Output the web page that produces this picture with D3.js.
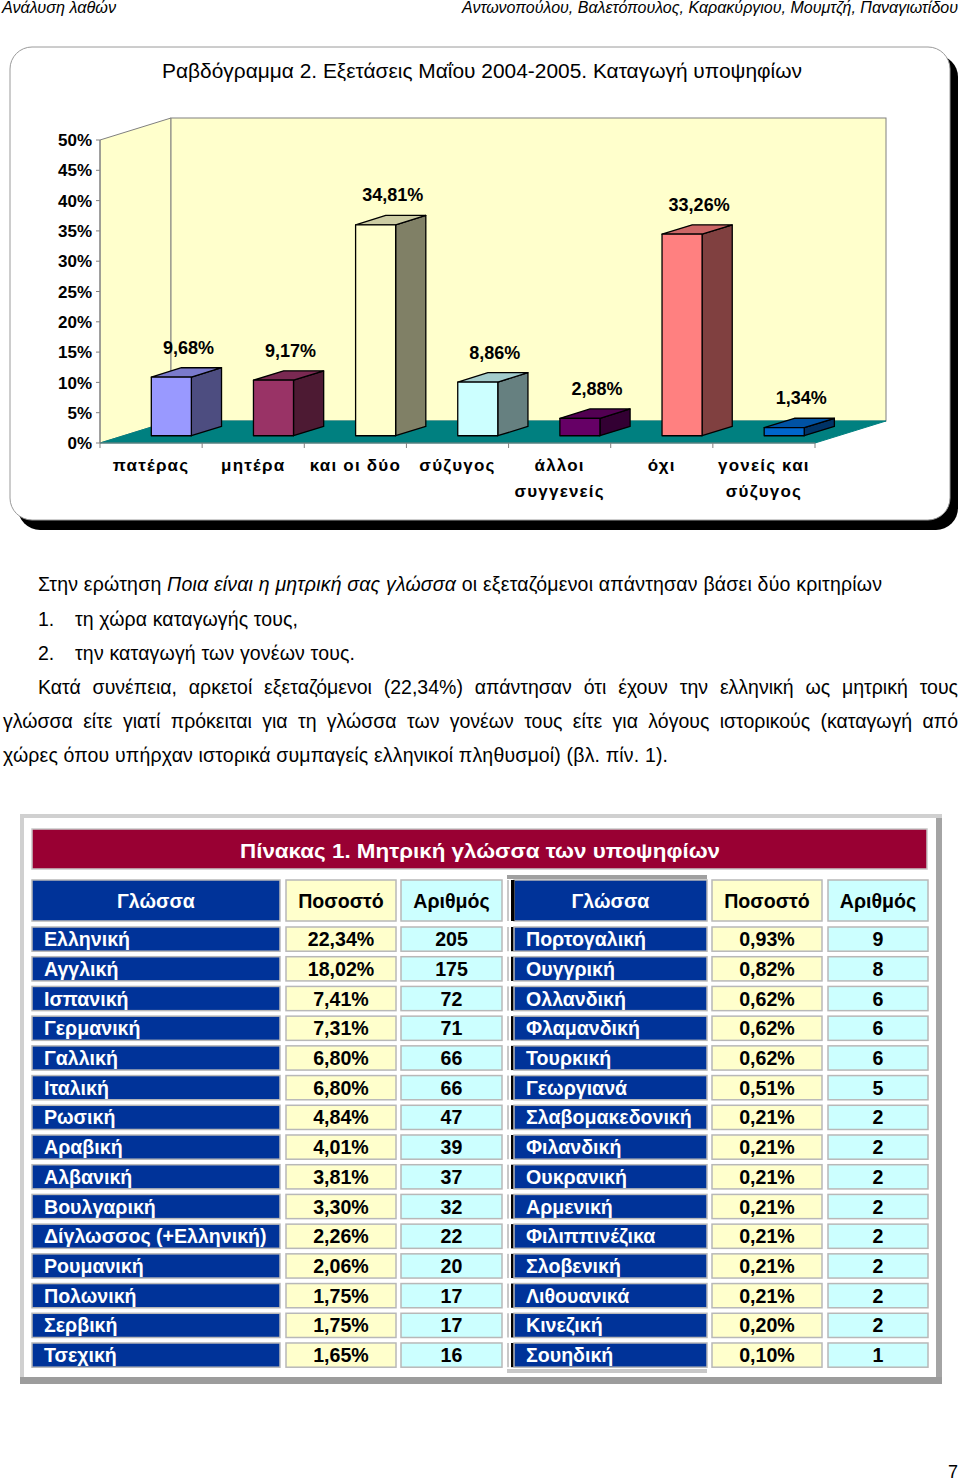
<!DOCTYPE html>
<html><head><meta charset="utf-8">
<script src="https://cdn.jsdelivr.net/npm/d3@7"></script>
<style>
html,body{margin:0;padding:0;background:#fff;}
svg{display:block;font-family:"Liberation Sans",Arial,sans-serif;}
</style></head>
<body>
<svg id="page" width="960" height="1482"></svg>
<script>
// ---------- DATA ----------
const headerLeft = "Ανάλυση λαθών";
const headerRight = "Αντωνοπούλου, Βαλετόπουλος, Καρακύργιου, Μουμτζή, Παναγιωτίδου";
const chartTitle = "Ραβδόγραμμα 2. Εξετάσεις Μαΐου 2004-2005. Καταγωγή υποψηφίων";
const categories = [["πατέρας"],["μητέρα"],["και οι δύο"],["σύζυγος"],["άλλοι","συγγενείς"],["όχι"],["γονείς και","σύζυγος"]];
const values = [9.68, 9.17, 34.81, 8.86, 2.88, 33.26, 1.34];
const yTicks = [0,5,10,15,20,25,30,35,40,45,50];
const frontColors = ["#9999FF","#993366","#FFFFCC","#CCFFFF","#660066","#FF8080","#0066CC"];

const tableTitle = "Πίνακας 1. Μητρική γλώσσα των υποψηφίων";
const columnHeaders = ["Γλώσσα","Ποσοστό","Αριθμός"];
const leftLanguages = ["Ελληνική","Αγγλική","Ισπανική","Γερμανική","Γαλλική","Ιταλική","Ρωσική","Αραβική","Αλβανική","Βουλγαρική","Δίγλωσσος (+Ελληνική)","Ρουμανική","Πολωνική","Σερβική","Τσεχική"];
const leftPercents = [22.34,18.02,7.41,7.31,6.80,6.80,4.84,4.01,3.81,3.30,2.26,2.06,1.75,1.75,1.65];
const leftCounts = [205,175,72,71,66,66,47,39,37,32,22,20,17,17,16];
const rightLanguages = ["Πορτογαλική","Ουγγρική","Ολλανδική","Φλαμανδική","Τουρκική","Γεωργιανά","Σλαβομακεδονική","Φιλανδική","Ουκρανική","Αρμενική","Φιλιππινέζικα","Σλοβενική","Λιθουανικά","Κινεζική","Σουηδική"];
const rightPercents = [0.93,0.82,0.62,0.62,0.62,0.51,0.21,0.21,0.21,0.21,0.21,0.21,0.21,0.20,0.10];
const rightCounts = [9,8,6,6,6,5,2,2,2,2,2,2,2,2,1];

const pageNumber = "7";

// ---------- HELPERS ----------
const locale = d3.formatLocale({decimal:",", thousands:".", grouping:[3], currency:["","€"]});
const f2 = locale.format(".2f");
const pct = v => f2(v) + "%";

function shade(c, k){ const r = d3.rgb(c); return d3.rgb(r.r*k, r.g*k, r.b*k).formatHex(); }

const svg = d3.select("#page");

// ---------- PAGE HEADER ----------
svg.append("text").attr("x",2).attr("y",13).attr("font-size",16).attr("font-style","italic").attr("fill","#000")
  .attr("textLength",114).attr("lengthAdjust","spacingAndGlyphs").text(headerLeft);
svg.append("text").attr("x",462).attr("y",13).attr("font-size",16).attr("font-style","italic").attr("fill","#000")
  .attr("textLength",496).attr("lengthAdjust","spacingAndGlyphs").text(headerRight);

// ---------- CHART BOX ----------
svg.append("rect").attr("x",18).attr("y",55).attr("width",940).attr("height",475).attr("rx",22).attr("fill","#000");
svg.append("rect").attr("x",10).attr("y",47).attr("width",940).attr("height",473).attr("rx",22).attr("fill","#fff").attr("stroke","#9a9a9a").attr("stroke-width",1);

svg.append("text").attr("x",162).attr("y",78).attr("font-size",19.5).attr("fill","#000")
  .attr("textLength",640).attr("lengthAdjust","spacingAndGlyphs").text(chartTitle);

// ---------- 3D BAR CHART ----------
const DX = 71, DY = -22;           // depth offset of back wall
const zF = 0.33, zB = 0.755;       // bar depth range
const x = d3.scaleBand().domain(d3.range(categories.length)).range([100, 815]);
const y = d3.scaleLinear().domain([0, 50]).range([443, 140]);
const bw = x.bandwidth();
const g = svg.append("g");

// walls
const y0 = y(0), yTop = y(50);
g.append("polygon").attr("points",[[100,yTop],[100+DX,yTop+DY],[100+DX,y0+DY],[100,y0]].join(" "))
  .attr("fill","#FFFFCC").attr("stroke","#808080").attr("stroke-width",1);
g.append("rect").attr("x",100+DX).attr("y",yTop+DY).attr("width",x(categories.length-1)+bw-100).attr("height",y0-yTop)
  .attr("fill","#FFFFCC").attr("stroke","#808080").attr("stroke-width",1);
// floor
g.append("polygon").attr("points",[[100,y0],[815,y0],[815+DX,y0+DY],[100+DX,y0+DY]].join(" "))
  .attr("fill","#008080").attr("stroke","#008080");
// axes lines
g.append("line").attr("x1",100).attr("x2",815).attr("y1",y0).attr("y2",y0).attr("stroke","#808080");
g.append("line").attr("x1",100).attr("x2",100).attr("y1",y0).attr("y2",yTop).attr("stroke","#808080");
// y ticks
const yAxis = g.append("g");
yTicks.forEach(t => {
  yAxis.append("line").attr("x1",96).attr("x2",100).attr("y1",y(t)).attr("y2",y(t)).attr("stroke","#808080");
  yAxis.append("text").attr("x",92).attr("y",y(t)).attr("dy","0.36em").attr("text-anchor","end")
    .attr("font-size",17).attr("font-weight","bold").text(t + "%");
});
// x ticks
d3.range(categories.length+1).forEach(i => {
  const xx = i < categories.length ? x(i) : x(categories.length-1)+bw;
  g.append("line").attr("x1",xx).attr("x2",xx).attr("y1",y0).attr("y2",y0+5).attr("stroke","#808080");
});
// category labels
categories.forEach((lines,i) => {
  const t = g.append("text").attr("text-anchor","middle").attr("font-size",17).attr("font-weight","bold")
    .attr("letter-spacing",1.2);
  lines.forEach((ln,j) => t.append("tspan").attr("x", x(i)+bw/2).attr("y", 471 + j*25.5).text(ln));
});
// bars
values.forEach((v,i) => {
  const x0 = x(i) + bw*0.273 + zF*DX, w = bw*0.392;
  const yb = y(0) + zF*DY, yt = y(v) + zF*DY;
  const ddx = (zB-zF)*DX, ddy = (zB-zF)*DY;
  const c = frontColors[i];
  const bar = g.append("g").attr("stroke","#000").attr("stroke-width",1.3).attr("stroke-linejoin","round");
  bar.append("polygon").attr("points",[[x0+w,yt],[x0+w+ddx,yt+ddy],[x0+w+ddx,yb+ddy],[x0+w,yb]].join(" ")).attr("fill",shade(c,0.5));
  bar.append("polygon").attr("points",[[x0,yt],[x0+w,yt],[x0+w+ddx,yt+ddy],[x0+ddx,yt+ddy]].join(" ")).attr("fill",shade(c,0.8));
  bar.append("rect").attr("x",x0).attr("y",yt).attr("width",w).attr("height",yb-yt).attr("fill",c);
  g.append("text").attr("x", x0 + w/2 + ddx/2 + 2).attr("y", y(v) + zB*DY - 14)
    .attr("text-anchor","middle").attr("font-size",18).attr("font-weight","bold").text(pct(v));
});

// ---------- PARAGRAPH ----------
const PF = 19.5;
function plain(xp, yp, parts, len){
  const t = svg.append("text").attr("x",xp).attr("y",yp).attr("font-size",PF).attr("xml:space","preserve");
  if (len) t.attr("textLength", len).attr("lengthAdjust","spacing");
  parts.forEach(p => t.append("tspan").attr("font-style", p[1] ? "italic":"normal").text(p[0]));
  return t;
}
function justify(x0, x1, yp, str){
  const words = str.split(" ");
  const nodes = words.map(wd => svg.append("text").attr("y",yp).attr("font-size",PF).text(wd));
  const widths = nodes.map(n => n.node().getComputedTextLength());
  const gap = (x1 - x0 - d3.sum(widths)) / (words.length - 1);
  let cx = x0;
  nodes.forEach((n,k) => { n.attr("x", cx); cx += widths[k] + gap; });
}
plain(38, 591, [["Στην ερώτηση ",false],["Ποια είναι η μητρική σας γλώσσα",true],[" οι εξεταζόμενοι απάντησαν βάσει δύο κριτηρίων",false]], 844);
plain(38, 626, [["1.",false]]); plain(75, 626, [["τη χώρα καταγωγής τους,",false]], 223);
plain(38, 660, [["2.",false]]); plain(75, 660, [["την καταγωγή των γονέων τους.",false]], 280);
justify(38, 958, 694, "Κατά συνέπεια, αρκετοί εξεταζόμενοι (22,34%) απάντησαν ότι έχουν την ελληνική ως μητρική τους");
justify(3, 958, 728, "γλώσσα είτε γιατί πρόκειται για τη γλώσσα των γονέων τους είτε για λόγους ιστορικούς (καταγωγή από");
plain(3, 762, [["χώρες όπου υπήρχαν ιστορικά συμπαγείς ελληνικοί πληθυσμοί) (βλ. πίν. 1).",false]], 665);

// ---------- TABLE ----------
const T = svg.append("g");
T.append("rect").attr("x",20).attr("y",814).attr("width",922).attr("height",570).attr("fill","#d0d0d0");
T.append("rect").attr("x",936).attr("y",818).attr("width",6).attr("height",566).attr("fill","#a4a4a4");
T.append("rect").attr("x",20).attr("y",1377).attr("width",922).attr("height",7).attr("fill","#9c9c9c");
T.append("rect").attr("x",24).attr("y",818).attr("width",912).attr("height",559).attr("fill","#fff");

T.append("rect").attr("x",32).attr("y",829).attr("width",895).attr("height",40).attr("fill","#990033").attr("stroke","#c8c8c8").attr("stroke-width",1.5);
T.append("text").attr("x",240).attr("y",858).attr("font-size",20).attr("font-weight","bold").attr("fill","#fff")
  .attr("textLength",480).attr("lengthAdjust","spacingAndGlyphs").text(tableTitle);

const colsL = [[32,280],[286,396],[401,502]];
const colsR = [[514,707],[712,822],[828,928]];
const fills = ["#003399","#FFFFCC","#CCFFFF"];
const rows = d3.scaleBand().domain(d3.range(leftLanguages.length)).range([927, 1367.2]).paddingInner(0.185);
const rh = rows.bandwidth();

function cell(c, yy, hh, k, txt, left){
  T.append("rect").attr("x",c[0]).attr("y",yy).attr("width",c[1]-c[0]).attr("height",hh)
    .attr("fill",fills[k]).attr("stroke","#b8b8b8").attr("stroke-width",1.5);
  T.append("text").attr("x", left ? c[0]+12 : (c[0]+c[1])/2).attr("y", yy+hh/2).attr("dy","0.36em")
    .attr("text-anchor", left ? "start":"middle").attr("font-size",19.6).attr("font-weight","bold")
    .attr("fill", k===0 ? "#fff" : "#000").text(txt);
}
// header
[colsL, colsR].forEach(cols => cols.forEach((c,k) => cell(c, 880, 41, k, columnHeaders[k], false)));
T.append("rect").attr("x",507).attr("y",875).attr("width",200).attr("height",4).attr("fill","#a0a0a0");
T.append("rect").attr("x",507).attr("y",1369).attr("width",200).attr("height",4).attr("fill","#c8c8c8");
function sep(yy, hh){
  T.append("rect").attr("x",507).attr("y",yy).attr("width",2).attr("height",hh).attr("fill","#c8c8c8");
  T.append("rect").attr("x",511).attr("y",yy).attr("width",3.5).attr("height",hh).attr("fill","#000");
}
sep(880, 41);
leftLanguages.forEach((lang,i) => {
  const yy = rows(i);
  cell(colsL[0], yy, rh, 0, lang, true);
  cell(colsL[1], yy, rh, 1, pct(leftPercents[i]), false);
  cell(colsL[2], yy, rh, 2, String(leftCounts[i]), false);
  sep(yy, rh);
  cell(colsR[0], yy, rh, 0, rightLanguages[i], true);
  cell(colsR[1], yy, rh, 1, pct(rightPercents[i]), false);
  cell(colsR[2], yy, rh, 2, String(rightCounts[i]), false);
});

// page number
svg.append("text").attr("x",958).attr("y",1478).attr("text-anchor","end").attr("font-size",18).text(pageNumber);
</script>
</body></html>
